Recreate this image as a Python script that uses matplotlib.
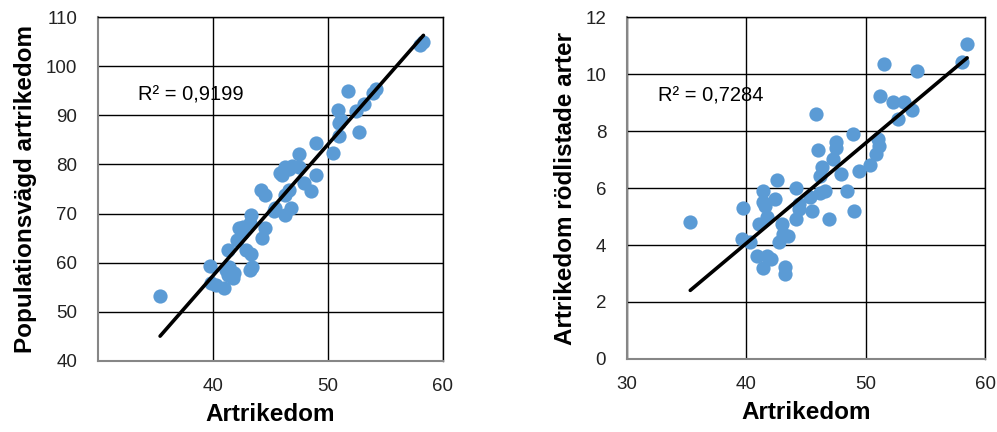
import numpy as np
import matplotlib.pyplot as plt

plt.rcParams['font.family'] = ['Liberation Sans', 'DejaVu Sans']

# left panel: Artrikedom vs populationsvägd artrikedom
x_left = [35.4, 39.7, 39.8, 40.3, 41.0, 41.3, 41.7, 41.4, 41.1, 43.2,
          43.4, 41.3, 42.1, 42.9, 43.3, 42.6, 42.3, 43.2, 43.3, 44.5,
          44.3, 44.2, 44.5, 45.4, 46.8, 46.3, 46.6, 46.3, 45.8, 46.0,
          46.3, 46.9, 47.5, 47.9, 48.5, 49.0, 47.5, 49.0, 50.4, 51.0,
          52.7, 51.1, 51.0, 50.9, 52.4, 53.1, 51.7, 54.2, 53.9, 58.0,
          58.3, 41.8, 42.5, 46.6, 45.3]
y_left = [53.3, 59.3, 55.8, 55.5, 54.8, 57.5, 56.8, 59.2, 58.5, 58.5,
          59.2, 62.6, 64.6, 62.6, 61.7, 67.2, 67.0, 68.0, 69.7, 67.0,
          65.0, 74.8, 73.8, 71.1, 71.1, 69.7, 74.8, 73.8, 78.2, 77.9,
          79.5, 79.7, 79.5, 76.2, 74.5, 77.8, 82.1, 84.3, 82.3, 85.8,
          86.7, 89.0, 88.4, 91.1, 90.9, 92.4, 94.9, 95.3, 94.5, 104.3,
          104.9, 58.0, 66.0, 79.0, 70.5]

# right panel: Artrikedom vs artrikedom rödlistade arter
x_right = [35.3, 39.6, 39.7, 40.3, 40.9, 41.1, 41.4, 41.4, 41.6, 41.4,
           41.7, 41.7, 42.1, 42.4, 42.6, 42.7, 43.0, 43.1, 43.5, 43.2,
           43.2, 44.2, 44.4, 44.4, 44.2, 45.3, 45.5, 45.8, 46.0, 46.2,
           46.3, 46.2, 46.6, 46.9, 47.3, 47.5, 47.5, 47.9, 48.4, 49.0,
           48.9, 49.4, 50.4, 50.9, 51.1, 51.0, 51.2, 51.5, 52.3, 52.7,
           53.2, 53.9, 54.3, 58.05, 58.5]
y_right = [4.80, 4.22, 5.30, 4.10, 3.60, 4.72, 5.91, 5.50, 5.38, 3.21,
           4.98, 3.60, 3.52, 5.62, 6.29, 4.10, 4.72, 4.40, 4.32, 3.22,
           2.98, 6.00, 5.44, 5.25, 4.92, 5.70, 5.21, 8.60, 7.32, 6.43,
           6.72, 5.81, 5.91, 4.92, 7.03, 7.62, 7.42, 6.50, 5.91, 5.21,
           7.91, 6.61, 6.82, 7.21, 7.48, 7.72, 9.23, 10.34, 9.03, 8.42,
           9.03, 8.73, 10.10, 10.43, 11.04]

xlabel = 'Artrikedom'
ylabel_left = 'Populationsvägd artrikedom'
ylabel_right = 'Artrikedom rödlistade arter'
r2_left = 'R² = 0,9199'
r2_right = 'R² = 0,7284'

dot_color = '#5B9BD5'

fig = plt.figure(figsize=(9.97, 4.32), dpi=100)
ax1 = fig.add_axes([0.0983, 0.1644, 0.346, 0.7962])
ax2 = fig.add_axes([0.6289, 0.1690, 0.3591, 0.7916])


def style(ax, xlim, xticks, ylim, yticks, ylab):
    ax.set_xlim(*xlim)
    ax.set_ylim(*ylim)
    ax.set_xticks(xticks)
    ax.set_yticks(yticks)
    ax.grid(True, color='black', linewidth=1.0)
    ax.set_axisbelow(True)
    for s in ['top', 'right']:
        ax.spines[s].set_color('black')
        ax.spines[s].set_linewidth(1.0)
    for s in ['left', 'bottom']:
        ax.spines[s].set_color('#868686')
        ax.spines[s].set_linewidth(1.5)
    ax.tick_params(length=0, labelsize=13.5, colors='#222222')
    ax.tick_params(axis='y', pad=15)
    ax.tick_params(axis='x', pad=12)
    ax.set_xlabel(xlabel, fontsize=17.5, fontweight='bold', labelpad=6)
    ax.set_ylabel(ylab, fontsize=17.5, fontweight='bold', labelpad=6)


def scatter_fit(ax, x, y):
    x = np.array(x)
    y = np.array(y)
    ax.scatter(x, y, s=105, color=dot_color, zorder=3, linewidths=0)
    k, m = np.polyfit(x, y, 1)
    xs = np.array([x.min(), x.max()])
    ax.plot(xs, k * xs + m, color='black', linewidth=2.6, zorder=4,
            solid_capstyle='round')


scatter_fit(ax1, x_left, y_left)
style(ax1, (30, 60), [40, 50, 60], (40, 110), range(40, 111, 10), ylabel_left)
ax1.text(33.5, 94.1, r2_left, fontsize=14.5, va='center', ha='left')

scatter_fit(ax2, x_right, y_right)
style(ax2, (30, 60), [30, 40, 50, 60], (0, 12), range(0, 13, 2), ylabel_right)
ax2.text(32.6, 9.23, r2_right, fontsize=14.5, va='center', ha='left')

fig.savefig('out.png', dpi=100)
